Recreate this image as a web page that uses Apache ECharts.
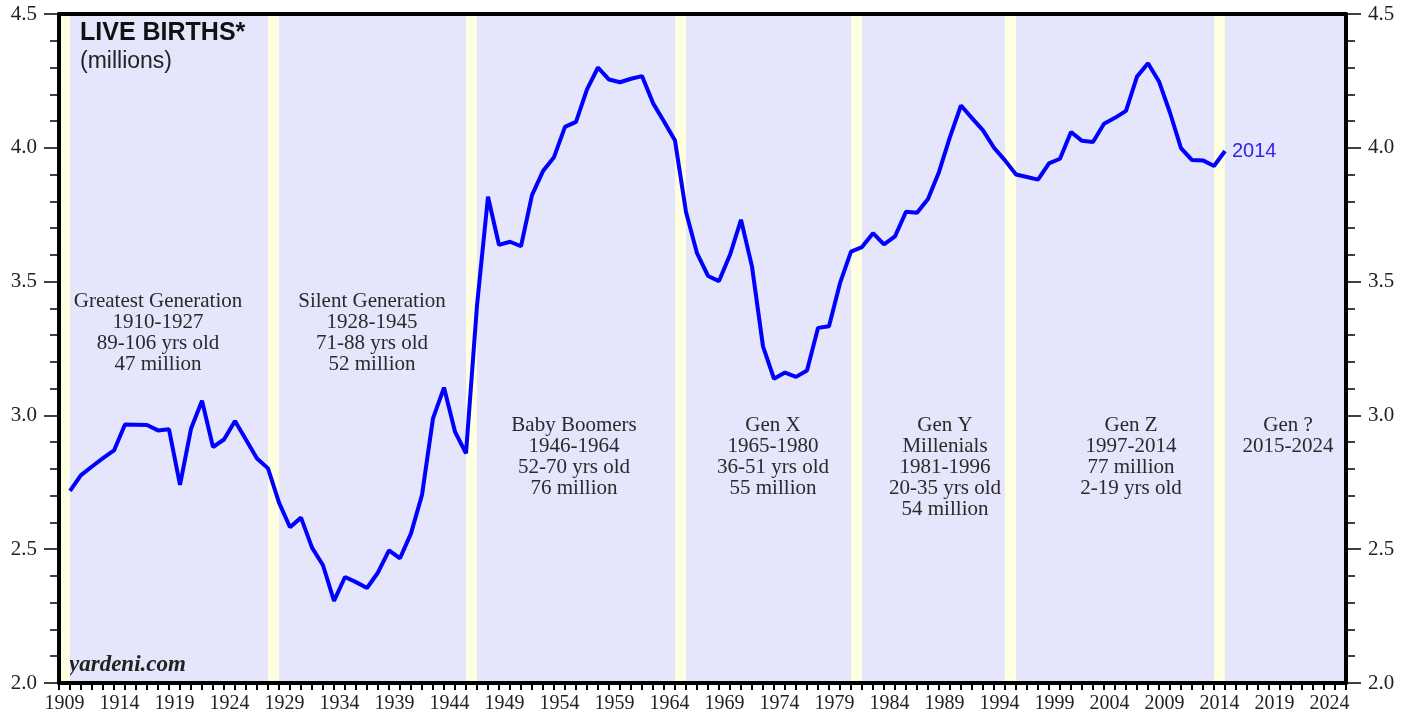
<!DOCTYPE html>
<html>
<head>
<meta charset="utf-8">
<script src="https://cdn.jsdelivr.net/npm/echarts@6/dist/echarts.min.js"></script>
<style>
  html, body { margin: 0; padding: 0; background: #fff; }
  #main { width: 1411px; height: 718px; }
</style>
</head>
<body>
<div id="main"></div>
<script>
// US live births, millions, one value per year starting 1909
const firstYear = 1909;
const births = [
  2.718, 2.777, 2.809, 2.840, 2.869, 2.966, 2.965, 2.964, 2.944, 2.948,
  2.740, 2.950, 3.055, 2.882, 2.910, 2.979, 2.909, 2.839, 2.802, 2.674,
  2.582, 2.618, 2.506, 2.440, 2.307, 2.396, 2.377, 2.355, 2.413, 2.496,
  2.466, 2.559, 2.703, 2.989, 3.104, 2.939, 2.858, 3.411, 3.817, 3.637,
  3.649, 3.632, 3.823, 3.913, 3.965, 4.078, 4.097, 4.218, 4.300, 4.255,
  4.245, 4.258, 4.268, 4.167, 4.098, 4.027, 3.760, 3.606, 3.521, 3.502,
  3.600, 3.731, 3.556, 3.258, 3.137, 3.160, 3.144, 3.168, 3.327, 3.333,
  3.494, 3.612, 3.629, 3.681, 3.639, 3.669, 3.761, 3.757, 3.809, 3.910,
  4.041, 4.158, 4.111, 4.065, 4.000, 3.953, 3.900, 3.891, 3.881, 3.942,
  3.959, 4.059, 4.026, 4.022, 4.090, 4.112, 4.138, 4.266, 4.316, 4.248,
  4.131, 3.999, 3.954, 3.953, 3.932, 3.988
];
const lastAxisYear = 2025;
// years marked with a yellow separator band
const bandYears = [1909, 1928, 1946, 1965, 1981, 1995, 2014];

const generations = [
  { lines: ['Greatest Generation', '1910-1927', '89-106 yrs old', '47 million'], x: 158, y: 291 },
  { lines: ['Silent Generation', '1928-1945', '71-88 yrs old', '52 million'], x: 372, y: 291 },
  { lines: ['Baby Boomers', '1946-1964', '52-70 yrs old', '76 million'], x: 574, y: 415 },
  { lines: ['Gen X', '1965-1980', '36-51 yrs old', '55 million'], x: 773, y: 415 },
  { lines: ['Gen Y', 'Millenials', '1981-1996', '20-35 yrs old', '54 million'], x: 945, y: 415 },
  { lines: ['Gen Z', '1997-2014', '77 million', '2-19 yrs old'], x: 1131, y: 415 },
  { lines: ['Gen ?', '2015-2024'], x: 1288, y: 415 }
];

const axisYears = [];
for (let y = firstYear; y <= lastAxisYear; y++) axisYears.push(String(y));

const lineData = births.map((v, i) => [firstYear + i, v]);

const serif = '"Liberation Serif", "Times New Roman", serif';
const sans = '"Liberation Sans", Arial, sans-serif';

const chart = echarts.init(document.getElementById('main'));

const yAxisBase = {
  type: 'value',
  min: 2,
  max: 4.5,
  interval: 0.5,
  z: 3,
  splitLine: { show: false },
  axisLine: { show: true, lineStyle: { color: '#000', width: 4 } },
  axisTick: { show: true, inside: false, length: 15, lineStyle: { color: '#000', width: 1.5 } },
  minorTick: { show: true, splitNumber: 5, length: 9, lineStyle: { color: '#000', width: 1.5 } },
  axisLabel: {
    margin: 22,
    color: '#222',
    fontFamily: serif,
    fontSize: 21,
    formatter: (v) => v.toFixed(1)
  }
};

const option = {
  backgroundColor: '#fff',
  animation: false,
  grid: {
    left: 59, right: 65, top: 14, bottom: 35,
    show: true,
    backgroundColor: '#e5e5fc',
    borderWidth: 0
  },
  xAxis: [
    {
      type: 'category',
      data: axisYears,
      boundaryGap: true,
      position: 'bottom',
      z: 3,
      axisLine: { show: true, lineStyle: { color: '#000', width: 4 } },
      axisTick: { show: true, interval: 0, alignWithLabel: false, length: 7, lineStyle: { color: '#000', width: 2 } },
      axisLabel: { interval: 4, margin: 11, color: '#222', fontFamily: serif, fontSize: 20 },
      splitLine: { show: false }
    },
    {
      // year-end positions for the line, drawn as the top border
      type: 'value',
      min: firstYear - 1,
      max: lastAxisYear,
      position: 'top',
      z: 3,
      axisLine: { show: true, onZero: false, lineStyle: { color: '#000', width: 4 } },
      axisTick: { show: false },
      axisLabel: { show: false },
      splitLine: { show: false }
    }
  ],
  yAxis: [
    Object.assign({}, yAxisBase, { position: 'left' }),
    Object.assign({}, yAxisBase, { position: 'right' })
  ],
  series: [
    {
      type: 'line',
      xAxisIndex: 1,
      yAxisIndex: 0,
      data: lineData,
      symbol: 'none',
      lineStyle: { color: '#0000ff', width: 4 },
      endLabel: {
        show: true,
        formatter: '2014',
        color: '#3322ee',
        fontFamily: sans,
        fontSize: 20,
        distance: 7
      },
      markArea: {
        silent: true,
        itemStyle: { color: '#fefee0' },
        data: bandYears.map((y) => [{ xAxis: y - 1 }, { xAxis: y }])
      },
      z: 2
    }
  ],
  graphic: [
    {
      type: 'text', left: 80, top: 21,
      style: { text: 'LIVE BIRTHS*', font: 'bold 25px ' + sans, fill: '#111' }
    },
    {
      type: 'text', left: 80, top: 50,
      style: { text: '(millions)', font: '23px ' + sans, fill: '#222' }
    },
    {
      type: 'text', left: 69, top: 654,
      style: { text: 'yardeni.com', font: 'italic bold 23px ' + serif, fill: '#222' }
    }
  ].concat(generations.map((g) => ({
    type: 'text',
    x: g.x,
    y: g.y,
    style: {
      text: g.lines.join('\n'),
      font: '21px ' + serif,
      fill: '#2a2a2a',
      align: 'center',
      verticalAlign: 'top',
      lineHeight: 21
    }
  })))
};

chart.setOption(option);
</script>
</body>
</html>
